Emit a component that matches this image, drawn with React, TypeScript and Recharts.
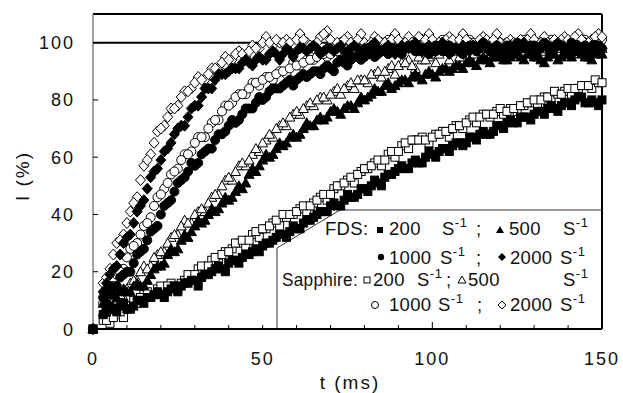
import React from 'react';
import { ScatterChart, Scatter, XAxis, YAxis, ReferenceLine } from 'recharts';

// sample times (ms): odd set and even set
const timesA = [0,3,5,7,9,11,13,15,17,19,21,23,25,27,29,31,33,35,37,39,41,43,45,47,49,51,53,55,57,59,61,63,65,67,69,71,73,75,77,79,81,83,85,87,89,91,93,95,97,99,101,103,105,107,109,111,113,115,117,119,121,123,125,127,129,131,133,135,137,139,141,143,145,147,149];
const timesB = [4,6,8,10,12,14,16,18,20,22,24,26,28,30,32,34,36,38,40,42,44,46,48,50,52,54,56,58,60,62,64,66,68,70,72,74,76,78,80,82,84,86,88,90,92,94,96,98,100,102,104,106,108,110,112,114,116,118,120,122,124,126,128,130,132,134,136,138,140,142,144,146,148,150];

// FDS 200 s-1 (filled squares)
const fds200A = [0,5,8,6,9,7,10,9,11,13,11,14,13,16,17,15,19,20,22,20,24,23,26,27,27,30,31,33,32,36,35,38,39,41,41,44,43,47,46,49,48,52,50,54,55,57,56,59,58,62,60,63,62,65,64,67,66,69,68,71,70,73,72,74,73,76,75,78,76,79,78,81,79,80,78];
const fds200B = [6,7,8,7,8,10,11,12,12,13,15,15,16,17,18,19,21,21,23,24,25,26,28,29,30,32,33,34,35,37,38,40,41,43,43,45,46,47,49,50,51,53,54,56,56,58,58,60,61,62,63,64,65,65,67,68,68,69,71,72,72,74,74,75,76,77,77,78,79,80,81,79,79,80];
// Sapphire 200 s-1 (open squares)
const sap200A = [0,3,2,5,4,7,9,12,11,14,13,16,14,17,18,21,20,24,23,27,28,30,29,33,32,35,37,36,39,40,42,41,44,46,45,49,50,52,51,55,56,58,57,61,60,64,63,66,67,65,68,69,67,71,70,73,72,75,74,76,75,77,76,78,79,78,81,80,82,83,82,84,85,84,86];
const sap200B = [3,4,6,8,10,11,13,12,15,15,15,16,19,19,22,22,25,26,27,30,31,31,34,35,36,38,40,40,41,43,43,45,47,47,50,51,53,54,56,57,59,59,62,62,65,66,66,66,67,68,69,70,71,72,74,74,75,75,77,76,77,78,79,80,80,81,83,82,84,84,85,85,87,86];
// FDS 500 s-1 (filled triangles)
const fds500A = [0,9,12,11,14,13,16,15,19,22,23,28,28,33,34,38,38,42,42,46,46,50,51,56,57,61,61,65,65,68,68,72,71,74,74,77,75,78,77,81,81,84,83,86,85,87,86,89,87,90,88,91,90,92,91,94,92,95,93,96,94,95,97,94,96,95,93,97,94,96,95,97,95,94,97];
const fds500B = [10,12,13,13,15,15,17,21,22,26,27,31,32,36,37,40,41,44,45,48,49,54,55,59,60,63,64,67,67,70,71,73,73,76,76,77,78,79,80,82,83,85,84,86,87,88,88,89,89,90,91,91,92,93,93,94,94,95,95,94,96,95,96,95,94,95,96,95,96,97,96,95,96,96];
// Sapphire 500 s-1 (open triangles)
const sap500A = [0,6,8,11,11,16,17,22,22,26,27,32,33,38,37,41,41,46,47,52,52,57,57,61,62,66,67,71,71,75,75,78,78,81,80,83,82,85,84,87,86,89,88,91,89,93,94,91,94,95,93,97,94,98,95,96,98,97,95,99,97,98,96,99,97,100,96,98,97,99,96,100,98,97,99];
const sap500B = [7,10,12,14,17,20,21,25,27,30,33,36,37,40,42,44,47,50,53,55,58,59,63,65,68,70,72,74,76,77,79,80,81,82,84,84,86,87,87,89,90,90,92,92,93,92,95,94,96,96,97,97,95,98,96,97,98,96,98,97,97,98,98,99,97,99,96,98,99,98,97,98,99,98];
// FDS 1000 s-1 (filled circles)
const fds1000A = [0,11,15,15,19,20,26,28,34,36,43,45,51,53,58,58,62,63,68,69,73,73,77,77,81,81,84,84,86,85,88,88,90,89,92,90,94,92,95,94,96,95,97,96,98,96,99,97,98,96,99,97,99,98,96,99,97,100,97,99,98,97,100,98,99,97,100,98,99,97,100,98,99,97,99];
const fds1000B = [13,14,18,20,23,27,31,35,40,44,48,52,55,57,61,63,66,68,71,72,75,77,79,80,83,84,85,87,87,89,89,90,91,91,93,93,94,95,95,96,96,97,98,97,98,98,97,98,97,98,99,98,97,98,99,98,99,98,98,99,98,99,98,99,98,99,98,99,98,99,98,98,99,98];
// Sapphire 1000 s-1 (open circles)
const sap1000A = [0,9,12,19,21,28,30,36,39,46,49,54,56,61,62,67,67,72,73,78,79,82,82,86,85,88,87,90,89,93,92,94,94,96,95,97,96,99,97,100,98,99,97,101,99,98,101,98,100,99,97,101,99,100,98,101,99,100,98,101,99,100,98,101,99,100,98,101,99,100,98,99,101,99,102];
const sap1000B = [11,15,20,25,29,33,37,43,47,51,55,59,61,65,67,70,73,76,78,81,82,84,86,87,88,89,90,91,92,93,94,95,96,96,97,98,98,99,99,99,98,100,100,99,100,100,99,100,98,99,100,99,99,100,100,99,99,100,100,100,99,100,100,100,99,100,100,99,99,100,100,100,101,101];
// FDS 2000 s-1 (filled diamonds)
const fds2000A = [0,13,19,22,30,33,41,45,53,56,62,65,70,71,77,78,84,84,89,89,91,91,94,92,95,94,97,94,98,95,98,97,99,96,98,97,99,96,99,97,98,100,97,99,96,99,98,100,97,99,97,100,96,98,99,97,98,100,97,99,96,99,98,100,97,98,99,97,100,98,96,99,97,99,98];
const fds2000B = [16,21,26,32,37,43,49,55,59,63,68,71,74,78,81,84,87,89,90,91,93,93,94,94,96,96,96,97,97,98,98,98,97,98,98,97,98,98,98,99,98,98,98,97,98,99,99,98,98,98,98,97,97,98,98,99,98,98,97,98,98,99,98,98,99,98,99,99,97,98,98,98,99,98];
// Sapphire 2000 s-1 (open diamonds)
const sap2000A = [0,16,21,30,33,41,46,57,61,69,71,77,78,83,84,88,87,91,91,95,94,97,95,99,98,102,99,100,101,99,103,100,98,102,104,99,100,102,99,103,98,102,100,99,103,99,102,98,101,103,99,100,102,99,103,100,98,102,100,103,99,101,98,100,103,99,102,98,100,102,99,103,100,101,103];
const sap2000B = [18,26,31,37,44,52,59,65,70,74,77,81,83,86,87,89,91,93,94,96,96,97,98,100,100,101,100,100,101,101,99,100,103,101,100,101,100,101,100,100,101,100,101,101,100,100,102,101,101,100,101,101,101,101,99,101,101,101,100,100,100,101,101,101,100,100,101,101,101,102,101,100,102,102];

const xTicks = [0,10,20,30,40,50,60,70,80,90,100,110,120,130,140,150];
const yTicks = [0,20,40,60,80,100];

const FONT = '"Liberation Sans", Arial, sans-serif';

const toPts = (a: number[], b: number[]) =>
  timesA.map((t, i) => ({ t, v: a[i] })).concat(timesB.map((t, i) => ({ t, v: b[i] })));

const sq = (filled: boolean) => (p: any) => (
  <rect x={p.cx - 4} y={p.cy - 4} width={8} height={8} fill={filled ? '#000' : '#fff'} stroke="#000" strokeWidth={1} />
);
const tri = (filled: boolean) => (p: any) => (
  <polygon points={`${p.cx},${p.cy - 5} ${p.cx + 5},${p.cy + 4} ${p.cx - 5},${p.cy + 4}`} fill={filled ? '#000' : '#fff'} stroke="#000" strokeWidth={1} />
);
const circ = (filled: boolean) => (p: any) => (
  <circle cx={p.cx} cy={p.cy} r={4.5} fill={filled ? '#000' : '#fff'} stroke="#000" strokeWidth={1} />
);
const dia = (filled: boolean) => (p: any) => (
  <polygon points={`${p.cx},${p.cy - 5.5} ${p.cx + 5},${p.cy} ${p.cx},${p.cy + 5.5} ${p.cx - 5},${p.cy}`} fill={filled ? '#000' : '#fff'} stroke="#000" strokeWidth={1} />
);

const XTick = (props: any) => {
  const { x, y, payload } = props;
  const v = payload.value;
  const major = v % 50 === 0;
  return (
    <g>
      <line x1={x} x2={x} y1={y} y2={y - (v === 100 ? 7 : 4)} stroke="#000" strokeWidth={1} />
      {major && (
        <text x={x} y={y + 36} textAnchor="middle" fontSize={18} letterSpacing={2} fill="#111" fontFamily={FONT}>{v}</text>
      )}
    </g>
  );
};

const YTick = (props: any) => {
  const { x, y, payload } = props;
  const v = payload.value;
  return (
    <g>
      {v !== 0 && <line x1={x} x2={x + 5} y1={y} y2={y} stroke="#000" strokeWidth={1} />}
      <text x={x - 18} y={y + 6.5} textAnchor="end" fontSize={18} letterSpacing={2} fill="#111" fontFamily={FONT}>{v}</text>
    </g>
  );
};

const Sup = ({ x, y }: { x: number; y: number }) => (
  <text x={x} y={y} fontSize={18.5} fill="#111" fontFamily={FONT} letterSpacing={0.5}>
    S<tspan dy={-8} fontSize={13}>-1</tspan>
  </text>
);

const T = ({ x, y, w, children }: { x: number; y: number; w?: number; children: React.ReactNode }) => (
  <text x={x} y={y} fontSize={18.5} fill="#111" fontFamily={FONT} letterSpacing={0.3}
    {...(w ? { textLength: w, lengthAdjust: 'spacingAndGlyphs' } : {})}>{children}</text>
);

const Legend = () => (
  <svg width={623} height={393} style={{ position: 'absolute', left: 0, top: 0 }}>
    <path d="M277,329 L277,248 L340,210 L602,210 L602,329 Z" fill="#fff" stroke="#333" strokeWidth={1} />
    <T x={325} y={235}>FDS:</T>
    <rect x={377} y={227} width={6} height={6} fill="#000" />
    <T x={389} y={235}>200</T>
    <Sup x={442} y={235} />
    <T x={476} y={235}>;</T>
    <polygon points="500,226 504,233 496,233" fill="#000" />
    <T x={509} y={235}>500</T>
    <Sup x={563} y={235} />

    <circle cx={381} cy={257} r={3.2} fill="#000" />
    <T x={389} y={264}>1000</T>
    <Sup x={440} y={264} />
    <T x={476} y={264}>;</T>
    <polygon points="502,253 506,257 502,261 498,257" fill="#000" />
    <T x={510} y={264}>2000</T>
    <Sup x={560} y={264} />

    <T x={282} y={286} w={76}>Sapphire:</T>
    <rect x={364} y={277} width={6} height={6} fill="#fff" stroke="#000" strokeWidth={1} />
    <T x={373} y={286}>200</T>
    <Sup x={417} y={286} />
    <T x={446} y={286}>;</T>
    <polygon points="462,276 466,283 458,283" fill="#fff" stroke="#000" strokeWidth={1} />
    <T x={468} y={286}>500</T>
    <Sup x={563} y={286} />

    <circle cx={375} cy={305} r={3.5} fill="#fff" stroke="#000" strokeWidth={1} />
    <T x={389} y={311}>1000</T>
    <Sup x={438} y={311} />
    <T x={477} y={311}>;</T>
    <polygon points="502,301 506,305 502,309 498,305" fill="#fff" stroke="#000" strokeWidth={1} />
    <T x={510} y={311}>2000</T>
    <Sup x={560} y={311} />

    <text x={22} y={176} transform="rotate(-90 22 176)" textAnchor="middle" dominantBaseline="central" fontSize={19} letterSpacing={2} fill="#111" fontFamily={FONT}>I (%)</text>
    <text x={350} y={389} textAnchor="middle" fontSize={19} letterSpacing={2} fill="#111" fontFamily={FONT}>t (ms)</text>
  </svg>
);

export default function App() {
  return (
    <div style={{ position: 'absolute', left: 0, top: 0, width: 623, height: 393, background: '#fff' }}>
      <Legend />
      <div style={{ position: 'absolute', left: 0, top: 0 }}>
        <ScatterChart width={623} height={393} margin={{ top: 14, right: 21, left: 0, bottom: 0 }}>
          <XAxis type="number" dataKey="t" domain={[0, 150]} ticks={xTicks} interval={0} height={64}
            tick={<XTick />} tickLine={false} tickSize={0} tickMargin={0}
            axisLine={{ stroke: '#000', strokeWidth: 2 }} />
          <YAxis type="number" dataKey="v" domain={[0, 110]} ticks={yTicks} interval={0} width={93}
            tick={<YTick />} tickLine={false} tickSize={0} tickMargin={0}
            axisLine={{ stroke: '#444', strokeWidth: 1 }} />
          <ReferenceLine y={110} stroke="#000" strokeWidth={2} />
          <ReferenceLine x={150} stroke="#000" strokeWidth={2} />
          <ReferenceLine y={100} stroke="#000" strokeWidth={2} />
          <Scatter data={toPts(sap200A, sap200B)} shape={sq(false)} isAnimationActive={false} />
          <Scatter data={toPts(sap500A, sap500B)} shape={tri(false)} isAnimationActive={false} />
          <Scatter data={toPts(sap1000A, sap1000B)} shape={circ(false)} isAnimationActive={false} />
          <Scatter data={toPts(sap2000A, sap2000B)} shape={dia(false)} isAnimationActive={false} />
          <Scatter data={toPts(fds200A, fds200B)} shape={sq(true)} isAnimationActive={false} />
          <Scatter data={toPts(fds500A, fds500B)} shape={tri(true)} isAnimationActive={false} />
          <Scatter data={toPts(fds2000A, fds2000B)} shape={dia(true)} isAnimationActive={false} />
          <Scatter data={toPts(fds1000A, fds1000B)} shape={circ(true)} isAnimationActive={false} />
        </ScatterChart>
      </div>
    </div>
  );
}
